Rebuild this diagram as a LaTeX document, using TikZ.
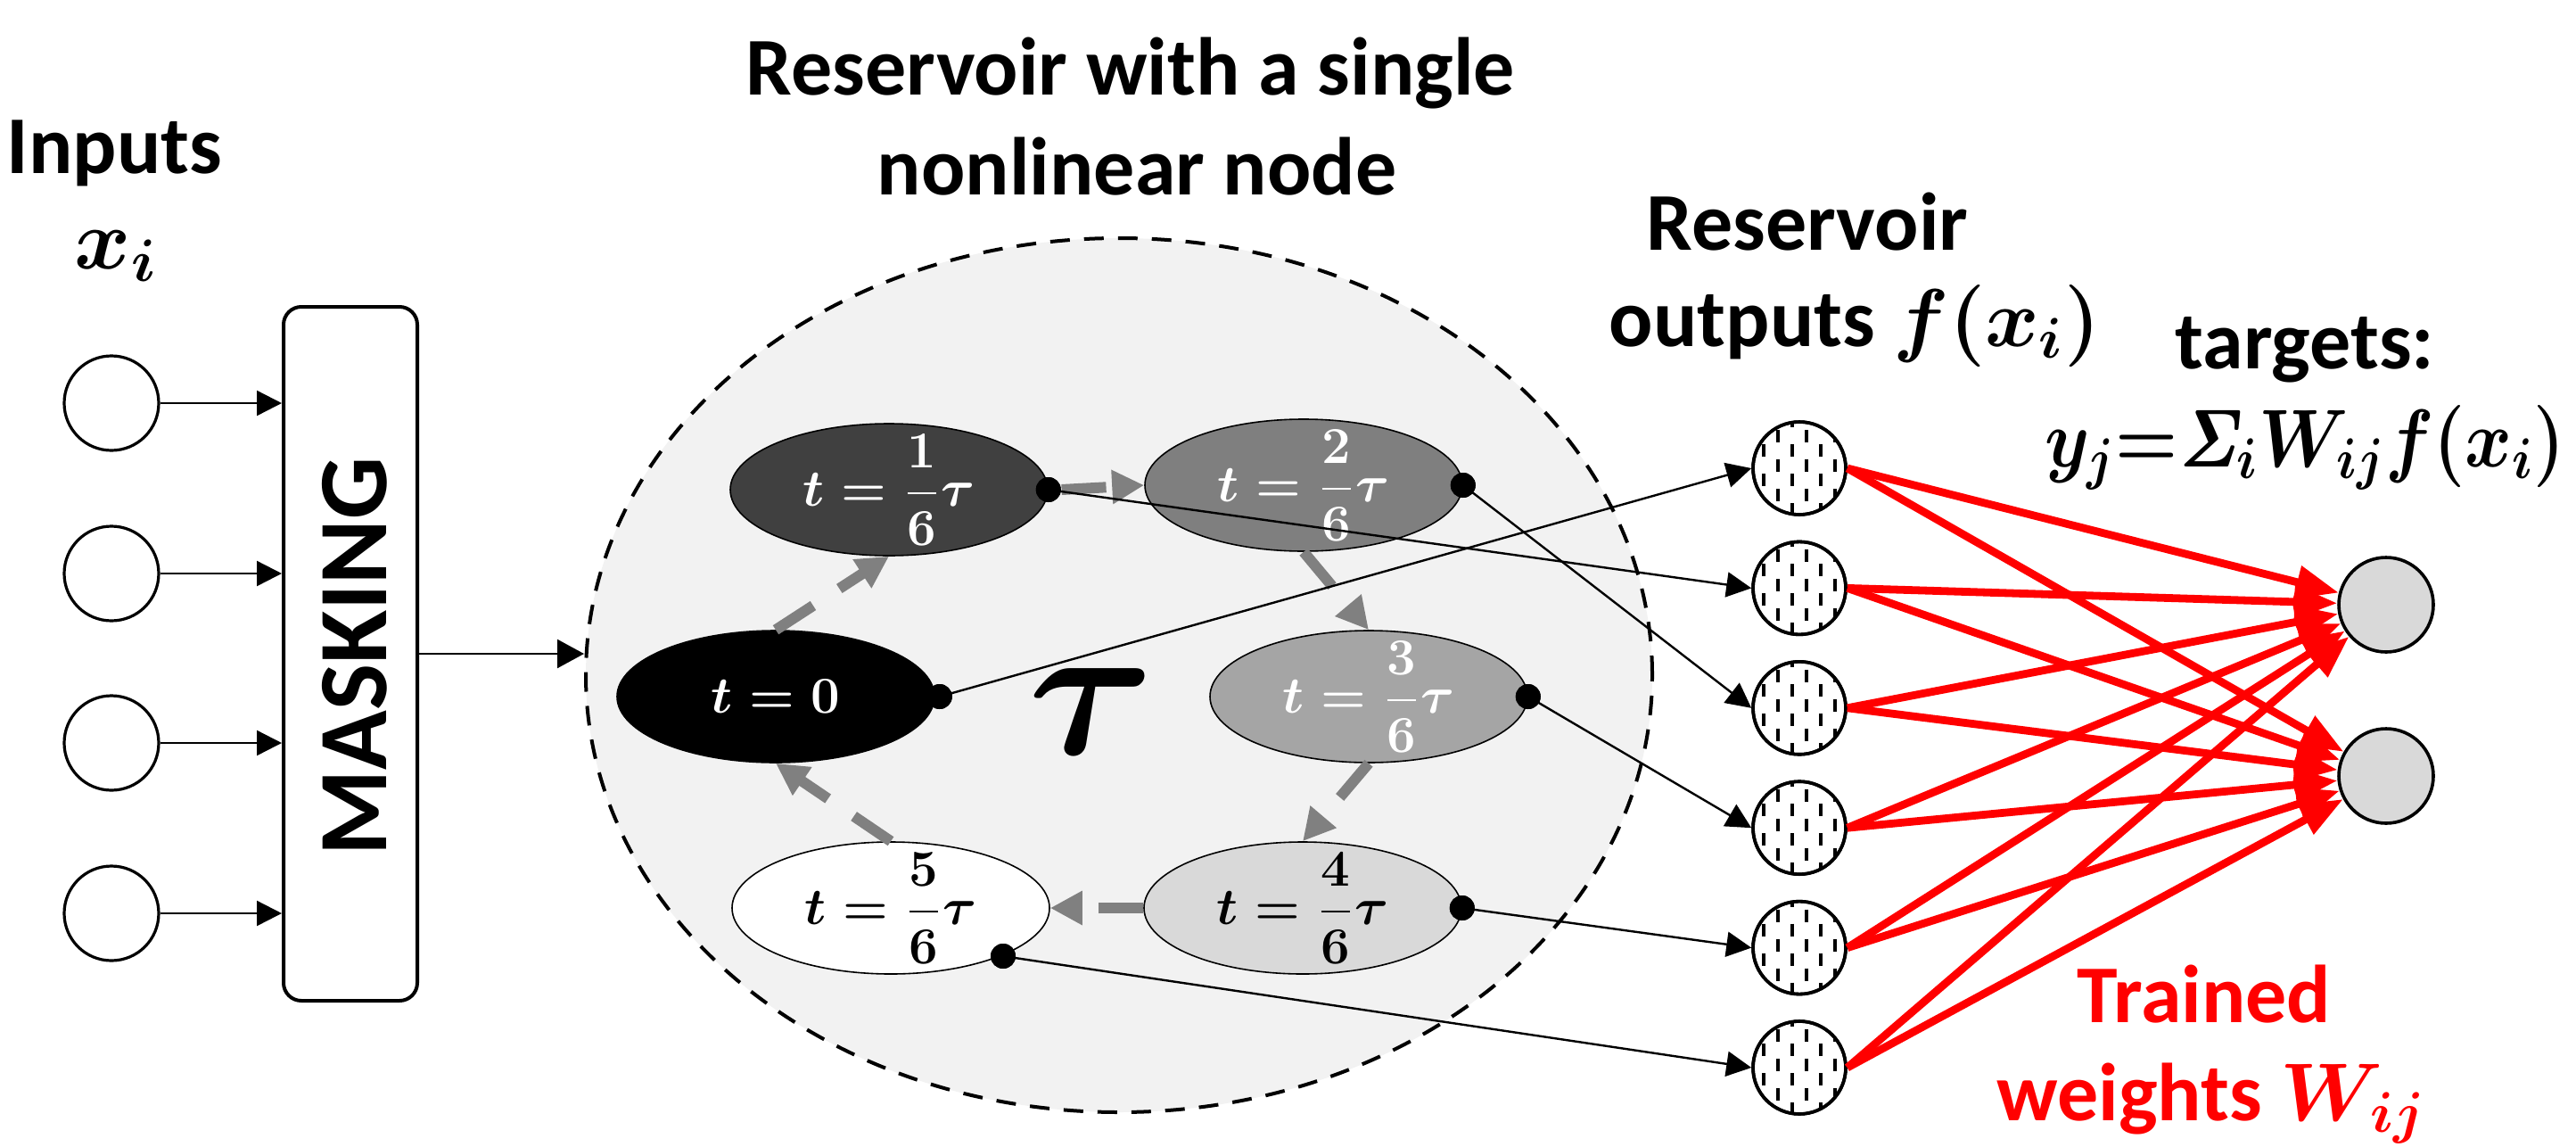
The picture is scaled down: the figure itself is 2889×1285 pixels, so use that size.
\documentclass[tikz,border=0pt]{standalone}
\usepackage{fix-cm}
\usepackage[no-math]{fontspec}
\setmainfont{Carlito}
\usetikzlibrary{arrows.meta,shapes.geometric,calc}

\definecolor{resbg}{HTML}{F2F2F2}
\definecolor{cycgray}{HTML}{808080}
\definecolor{shadeA}{HTML}{404040}
\definecolor{shadeB}{HTML}{7F7F7F}
\definecolor{shadeC}{HTML}{A5A5A5}
\definecolor{shadeD}{HTML}{D9D9D9}
\definecolor{tgray}{HTML}{D9D9D9}

% font helpers
\newcommand\lblfont{\fontsize{23}{28}\selectfont\bfseries}
\newcommand\xfont{\fontsize{24}{28}\selectfont}
\newcommand\maskfont{\fontsize{27.5}{30}\selectfont\bfseries}
\newcommand\tfont{\fontsize{14.5}{17}\selectfont\boldmath}
\newcommand\taufont{\fontsize{54}{60}\selectfont}
\newcommand\boldx{{\boldmath$x_i$}}
\newcommand\boldtau{{\boldmath$\tau$}}
\newcommand\boldf{{\boldmath$f(x_i)$}}
\newcommand\boldw{{\boldmath$W_{ij}$}}
\newcommand\boldeq{\resizebox{146pt}{\height}{\boldmath$y_j{=}\mathit{\Sigma}_i W_{ij} f(x_i)$}}

\tikzset{
  lbl/.style={font=\lblfont, inner sep=0pt, anchor=base},
  inp/.style={circle, draw, line width=0.8pt, minimum size=26.5pt, inner sep=0pt},
  maskbox/.style={draw, rounded corners=5pt, line width=1pt, minimum width=37.5pt, minimum height=194.5pt, inner sep=0pt},
  link/.style={line width=0.6pt, -{Triangle[length=7pt,width=7pt]}},
  resnode/.style={ellipse, draw, line width=0.4pt, minimum width=89pt, minimum height=37pt, inner sep=0pt},
  tlabel/.style={font=\tfont, inner sep=0pt},
  cyc/.style={draw=cycgray, line width=3pt, dash pattern=on 12.5pt off 8.75pt, -{Triangle[length=9pt,width=9pt]}},
  dot/.style={circle, fill=black, minimum size=7pt, inner sep=0pt},
  hnode/.style={circle, draw, fill=white, line width=0.9pt, minimum size=26pt, inner sep=0pt},
  hatchline/.style={line width=0.85pt, dash pattern=on 3.5pt off 4.75pt},
  target/.style={circle, draw, fill=tgray, line width=0.9pt, minimum size=26.5pt, inner sep=0pt},
  redarrow/.style={draw=red, line width=2.2pt, -{Triangle[length=12pt,width=9pt]}}
}

\begin{document}
\begin{tikzpicture}[x=0.25pt, y=-0.25pt]
\useasboundingbox (0,0) rectangle (2889,1285);

% ---------- inputs and masking ----------
\node[lbl, anchor=base west] (inlbl) at (7,194) {Inputs};
\node[lbl, font=\xfont] (xlbl) at (130,301) {\boldx};
\foreach \k/\yy in {1/452,2/643,3/833,4/1024}
  \node[inp] (c\k) at (125,\yy) {};
\node[maskbox] (mask) at (393,733) {};
\node[font=\maskfont, inner sep=0pt, rotate=90, anchor=base] (masktxt) at (433,736) {MASKING};
\foreach \k in {1,...,4}
  \draw[link] (c\k) -- (c\k -| mask.west);

% ---------- reservoir ----------
\node[lbl] (rtitle1) at (1268,106) {Reservoir with a single};
\node[lbl] (rtitle2) at (1275,218) {nonlinear node};
\node[ellipse, draw, fill=resbg, line width=1pt, dash pattern=on 5.5pt off 4pt,
      minimum width=299pt, minimum height=245pt, inner sep=0pt] (res) at (1255,757) {};
\draw[link, -{Triangle[length=7.5pt,width=8pt]}] (mask.east) -- (mask.east -| res.west);

\node[resnode, fill=black, label={[tlabel, text=white]center:$t=0$}] (n0) at (870,781) {};
\node[resnode, fill=shadeA, label={[tlabel, text=white]center:$\displaystyle t=\frac{1}{6}\tau$}] (n1) at (997,549) {};
\node[resnode, fill=shadeB, label={[tlabel, text=white]center:$\displaystyle t=\frac{2}{6}\tau$}] (n2) at (1462,544) {};
\node[resnode, fill=shadeC, label={[tlabel, text=white]center:$\displaystyle t=\frac{3}{6}\tau$}] (n3) at (1535,781) {};
\node[resnode, fill=shadeD, label={[tlabel]center:$\displaystyle t=\frac{4}{6}\tau$}] (n4) at (1461,1018) {};
\node[resnode, fill=white, label={[tlabel]center:$\displaystyle t=\frac{5}{6}\tau$}] (n5) at (999,1018) {};
\node[font=\taufont, inner sep=0pt] (tau) at (1224,797) {\boldtau};

\node[dot] (d0) at ($(n0.east)+(5,0)$) {};
\node[dot] (d1) at (n1.east) {};
\node[dot] (d2) at (n2.east) {};
\node[dot] (d3) at (n3.east) {};
\node[dot] (d4) at (n4.east) {};
\node[dot] (d5) at ($(n5.center)+(126,54)$) {};

% delay loop around the ring
\draw[cyc] (n0.north) -- (n1.south);
\draw[cyc] (d1.east) -- (n2.west);
\draw[cyc] (n2.south) -- (n3.north);
\draw[cyc] (n3.south) -- (n4.north);
\draw[cyc] (n4.west) -- (n5.east);
\draw[cyc] (n5.north) -- (n0.south);

% ---------- reservoir outputs ----------
\node[lbl] (olbl1) at (2027,280) {Reservoir};
\node[lbl] (olbl2) at (2080,388) {outputs \boldf};
\foreach \k in {1,...,6} {
  \pgfmathsetmacro{\yy}{525+134.4*(\k-1)}
  \node[hnode] (h\k) at (2018,\yy) {};
  \begin{scope}
    \clip (h\k.center) circle[radius=12.6pt];
    \foreach \dx/\ph in {-40/0,-24/4,-8/0,8/4,24/0,40/4}
      \draw[hatchline, dash phase=\ph pt] ($(h\k.center)+(\dx,-60)$) -- ($(h\k.center)+(\dx,60)$);
  \end{scope}
  \draw[line width=0.9pt] (h\k.center) circle[radius=13pt];
}

\draw[link] (d0.center) -- (h1.west);
\draw[link] (d1.center) -- (h2.west);
\draw[link] (d2.center) -- (h3.west);
\draw[link] (d3.center) -- (h4.west);
\draw[link] (d4.center) -- (h5.west);
\draw[link] (d5.center) -- (h6.west);
\foreach \k in {0,...,5}
  \node[dot] at (d\k) {};

% ---------- trained read-out ----------
\node[lbl] (tglbl) at (2585,413) {targets:};
\node[lbl] (tgeq) at (2585,523) {\boldeq};
\node[target] (t1) at (2676,678) {};
\node[target] (t2) at (2676,870) {};
\foreach \k in {1,...,6}
  \foreach \j in {1,2}
    \draw[redarrow] (h\k.east) -- (t\j);
\node[lbl, text=red] (wlbl1) at (2472,1146) {Trained};
\node[lbl, text=red] (wlbl2) at (2480,1256) {weights \boldw};
\end{tikzpicture}
\end{document}
